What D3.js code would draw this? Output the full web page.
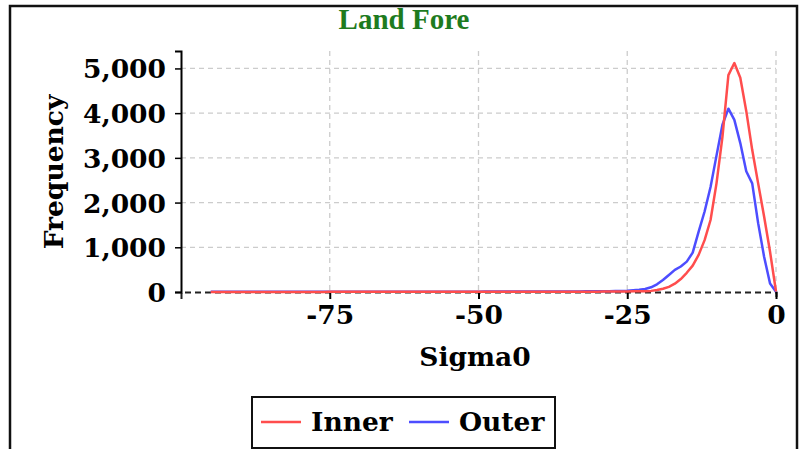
<!DOCTYPE html>
<html>
<head>
<meta charset="utf-8">
<script src="https://cdn.jsdelivr.net/npm/d3@7"></script>
<style>
  body { margin: 0; background: #fff; }
  svg text { font-family: "DejaVu Serif", serif; font-weight: bold; }
</style>
</head>
<body>
<svg id="chart"></svg>
<script>
// sigma0 bins (dB)
var sigmaBins = [-95, -94, -93, -92, -91, -90, -89, -88, -87, -86, -85, -84, -83, -82, -81, -80,
                 -79, -78, -77, -76, -75, -74, -73, -72, -71, -70, -69, -68, -67, -66, -65, -64,
                 -63, -62, -61, -60, -59, -58, -57, -56, -55, -54, -53, -52, -51, -50, -49, -48,
                 -47, -46, -45, -44, -43, -42, -41, -40, -39, -38, -37, -36, -35, -34, -33, -32,
                 -31, -30, -29, -28, -27, -26, -25, -24, -23, -22, -21, -20, -19, -18, -17, -16,
                 -15, -14, -13, -12, -11, -10, -9, -8, -7, -6, -5, -4, -3, -2, -1, 0];

var innerCounts = [2, 2, 2, 2, 2, 2, 2, 2, 2, 2, 2, 2, 2, 2, 2, 2,
                   2, 2, 2, 2, 3, 3, 3, 3, 3, 3, 3, 3, 3, 3, 3, 3,
                   3, 3, 3, 3, 4, 4, 4, 4, 4, 4, 4, 4, 4, 5, 5, 5,
                   5, 5, 5, 5, 5, 6, 6, 6, 6, 6, 6, 7, 7, 7, 7, 8,
                   8, 8, 9, 10, 11, 12, 13, 14, 15, 17, 25, 45, 74, 115, 185, 290,
                   430, 590, 830, 1160, 1610, 2430, 3470, 4850, 5120, 4790, 4050, 3180, 2430, 1690, 900, 10];

var outerCounts = [5, 5, 5, 5, 5, 5, 5, 5, 5, 5, 5, 5, 5, 5, 5, 5,
                   5, 5, 5, 5, 6, 6, 6, 6, 6, 6, 6, 6, 6, 6, 6, 6,
                   7, 7, 7, 7, 7, 7, 7, 7, 8, 8, 8, 8, 8, 8, 9, 9,
                   9, 9, 9, 10, 10, 10, 10, 11, 11, 11, 12, 12, 12, 13, 13, 14,
                   14, 15, 16, 18, 20, 24, 30, 40, 52, 67, 105, 171, 268, 380, 495, 570,
                   680, 880, 1350, 1800, 2350, 3050, 3740, 4100, 3850, 3330, 2700, 2430, 1540, 790, 190, 5];

var seriesNames = ["Inner", "Outer"];
var seriesColors = ["#ff4d4d", "#4d4dff"];
var xTicks = [-75, -50, -25, 0];
var yTicks = [0, 1000, 2000, 3000, 4000, 5000];

var W = 810, H = 449;
var margin = {top: 51, right: 34, bottom: 157, left: 181};
var width = W - margin.left - margin.right;
var height = H - margin.top - margin.bottom;
var fontSize = "26.5px";

var root = d3.select("#chart").attr("width", W).attr("height", H);

// outer frame
root.append("rect")
    .attr("x", 10).attr("y", 6)
    .attr("width", 787).attr("height", 470)
    .attr("fill", "none").attr("stroke", "#111").attr("stroke-width", 2.5);

root.append("text")
    .attr("x", 404).attr("y", 29)
    .attr("text-anchor", "middle")
    .style("font-family", "'Liberation Serif', serif")
    .style("font-size", "29px")
    .attr("fill", "#1e7b1e")
    .text("Land Fore");

var svg = root.append("g")
    .attr("transform", "translate(" + margin.left + "," + margin.top + ")");

var x = d3.scaleLinear().domain([-100, 0]).range([0, width]);
var y = d3.scaleLinear().domain([0, 5390]).range([height, 0]);

// grid
svg.append("g").selectAll("line")
    .data(yTicks.slice(1))
    .enter().append("line")
    .attr("x1", 0).attr("x2", width)
    .attr("y1", (d) => y(d)).attr("y2", (d) => y(d))
    .attr("stroke", "#ccc").attr("stroke-width", 1.3)
    .attr("stroke-dasharray", "5,4");

svg.append("g").selectAll("line")
    .data(xTicks)
    .enter().append("line")
    .attr("x1", (d) => x(d)).attr("x2", (d) => x(d))
    .attr("y1", 0).attr("y2", height)
    .attr("stroke", "#ccc").attr("stroke-width", 1.3)
    .attr("stroke-dasharray", "5,4");

// axes
var xAxis = d3.axisBottom(x).tickValues(xTicks).tickSize(7).tickPadding(6)
    .tickFormat((d) => String(d));
var yAxis = d3.axisLeft(y).tickValues(yTicks).tickSize(6).tickPadding(9)
    .tickFormat(d3.format(","));

var gx = svg.append("g")
    .attr("transform", "translate(0," + height + ")")
    .call(xAxis);
gx.select(".domain").attr("stroke", "#222").attr("stroke-width", 2)
    .attr("stroke-dasharray", "6,4");
gx.selectAll(".tick line").attr("stroke", "#000").attr("stroke-width", 2);
gx.selectAll("text").style("font-size", fontSize).attr("fill", "#000");

var gy = svg.append("g").call(yAxis);
gy.select(".domain").attr("stroke", "#000").attr("stroke-width", 2);
gy.selectAll(".tick line").attr("stroke", "#000").attr("stroke-width", 1.5);
gy.selectAll("text").style("font-size", fontSize).attr("fill", "#000").attr("dy", "0.36em");

// lines
var line = d3.line()
    .x((d) => x(d[0]))
    .y((d) => y(d[1]));

var seriesData = [
  sigmaBins.map((s, i) => [s, outerCounts[i]]),
  sigmaBins.map((s, i) => [s, innerCounts[i]])
];
var drawColors = [seriesColors[1], seriesColors[0]];

svg.append("g").selectAll("path")
    .data(seriesData)
    .enter().append("path")
    .attr("d", line)
    .attr("fill", "none")
    .attr("stroke", (d, i) => drawColors[i])
    .attr("stroke-width", 2.5)
    .attr("stroke-linejoin", "round");

// axis titles
root.append("text")
    .attr("x", 475).attr("y", 366)
    .attr("text-anchor", "middle")
    .style("font-size", fontSize)
    .text("Sigma0");

root.append("text")
    .attr("transform", "translate(63,172) rotate(-90)")
    .attr("text-anchor", "middle")
    .style("font-size", fontSize)
    .text("Frequency");

// legend
var legend = root.append("g");
legend.append("rect")
    .attr("x", 252).attr("y", 397)
    .attr("width", 303).attr("height", 51)
    .attr("fill", "#fff").attr("stroke", "#111").attr("stroke-width", 2);

var legendX = [261, 409];
seriesNames.forEach(function(name, i) {
  legend.append("line")
      .attr("x1", legendX[i]).attr("x2", legendX[i] + 40)
      .attr("y1", 422).attr("y2", 422)
      .attr("stroke", seriesColors[i]).attr("stroke-width", 2.5);
  legend.append("text")
      .attr("x", legendX[i] + 50).attr("y", 431)
      .style("font-size", fontSize)
      .text(name);
});
</script>
</body>
</html>
